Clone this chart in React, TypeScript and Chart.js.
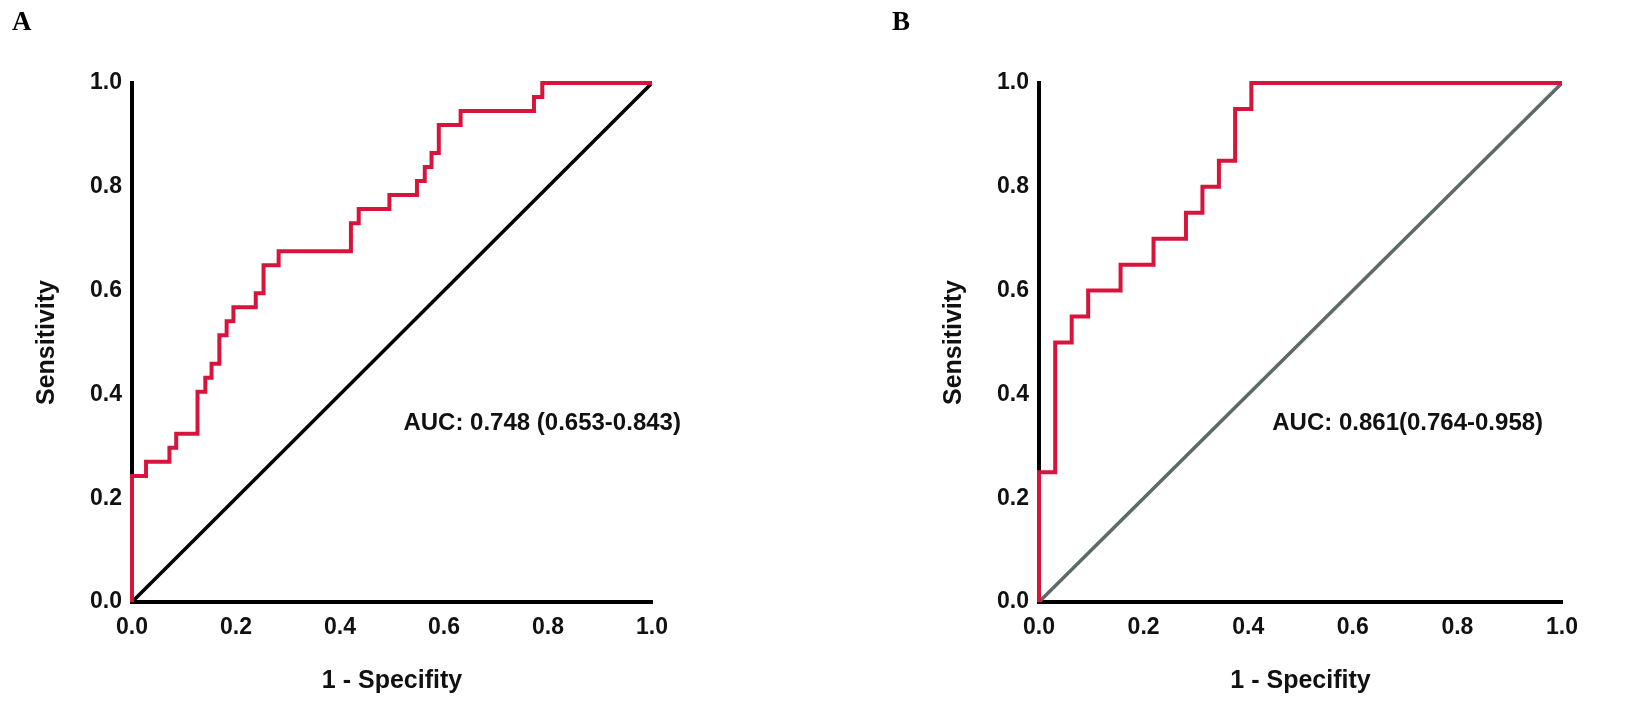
import React, { useEffect, useRef } from 'react';
import Chart from 'chart.js/auto';

// ROC points (1 - specificity, sensitivity), corners at the top of each rise
const fprA = [0, 0, 0.027, 0.072, 0.085, 0.126, 0.141, 0.153, 0.168, 0.182, 0.195, 0.238, 0.253, 0.282, 0.421, 0.436, 0.495, 0.548, 0.563, 0.576, 0.59, 0.632, 0.773, 0.789, 1.0];
const tprA = [0, 0.243, 0.27, 0.297, 0.324, 0.405, 0.432, 0.459, 0.514, 0.541, 0.568, 0.595, 0.649, 0.676, 0.73, 0.757, 0.784, 0.811, 0.838, 0.865, 0.919, 0.946, 0.973, 1.0, 1.0];

const fprB = [0, 0, 0.031, 0.0625, 0.094, 0.156, 0.219, 0.281, 0.3125, 0.344, 0.375, 0.406, 1.0];
const tprB = [0, 0.25, 0.5, 0.55, 0.6, 0.65, 0.7, 0.75, 0.8, 0.85, 0.95, 1.0, 1.0];

const refLine = [0, 1];
const tickValues = [0, 0.2, 0.4, 0.6, 0.8, 1.0];

const aucA = 'AUC: 0.748 (0.653-0.843)';
const aucB = 'AUC: 0.861(0.764-0.958)';

const FONT = "'Liberation Sans', Arial, sans-serif";

type RocProps = {
  fpr: number[];
  tpr: number[];
  auc: string;
  aucX: number;
  diagColor: string;
  padLeft: number;
  padRight: number;
};

const Roc = ({ fpr, tpr, auc, aucX, diagColor, padLeft, padRight }: RocProps) => {
  const canvasRef = useRef<HTMLCanvasElement>(null);

  useEffect(() => {
    const canvas = canvasRef.current;
    let chart: Chart | null = null;

    const aucLabel = {
      id: 'aucLabel',
      afterDatasetsDraw(c: any) {
        const { ctx, scales } = c;
        ctx.save();
        ctx.font = `bold 24px ${FONT}`;
        ctx.fillStyle = '#111';
        ctx.textAlign = 'left';
        ctx.textBaseline = 'middle';
        ctx.fillText(auc, scales.x.getPixelForValue(aucX), scales.y.getPixelForValue(0.345));
        ctx.restore();
      },
    };

    if (canvas) {
      chart = new Chart(canvas, {
        type: 'scatter',
        data: {
          datasets: [
            {
              // horizontal first, then the rise to the next point
              data: fpr.map((x, i) => ({ x, y: tpr[i] })),
              showLine: true,
              stepped: 'before',
              borderColor: '#d7143c',
              borderWidth: 4,
              pointRadius: 0,
              clip: false,
              order: 0,
            },
            {
              data: refLine.map((v) => ({ x: v, y: v })),
              showLine: true,
              borderColor: diagColor,
              borderWidth: 3.5,
              pointRadius: 0,
              order: 1,
            },
          ],
        },
        options: {
          responsive: false,
          animation: false,
          layout: { padding: { left: padLeft, right: padRight, top: 83, bottom: 0 } },
          plugins: {
            legend: { display: false },
            tooltip: { enabled: false },
          },
          scales: {
            x: {
              type: 'linear',
              min: 0,
              max: 1,
              afterBuildTicks: (s: any) => {
                s.ticks = tickValues.map((value) => ({ value }));
              },
              afterFit: (s: any) => {
                s.height = 100;
              },
              grid: { display: false, drawTicks: false },
              border: { color: '#000', width: 4 },
              ticks: {
                padding: 12,
                color: '#111',
                font: { family: FONT, size: 23, weight: 'bold' },
                callback: (v: any) => Number(v).toFixed(1),
              },
              title: {
                display: true,
                text: '1 - Specifity',
                color: '#111',
                padding: { top: 0, bottom: 6 },
                font: { family: FONT, size: 25, weight: 'bold' },
              },
            },
            y: {
              type: 'linear',
              min: 0,
              max: 1,
              afterBuildTicks: (s: any) => {
                s.ticks = tickValues.map((value) => ({ value }));
              },
              afterFit: (s: any) => {
                s.width = 132;
              },
              grid: { display: false, drawTicks: false },
              border: { color: '#000', width: 4 },
              ticks: {
                padding: 10,
                color: '#111',
                font: { family: FONT, size: 23, weight: 'bold' },
                callback: (v: any) => Number(v).toFixed(1),
              },
              title: {
                display: true,
                text: 'Sensitivity',
                color: '#111',
                padding: { top: 32, bottom: 0 },
                font: { family: FONT, size: 25, weight: 'bold' },
              },
            },
          },
        },
        plugins: [aucLabel],
      });
    }

    return () => {
      if (chart) {
        chart.destroy();
      }
    };
  }, [fpr, tpr, auc, aucX, diagColor, padLeft, padRight]);

  return <canvas ref={canvasRef} width={819} height={702} style={{ display: 'block' }}></canvas>;
};

const panelLetter: React.CSSProperties = {
  position: 'absolute',
  top: 6,
  fontFamily: "'Liberation Serif', 'DejaVu Serif', serif",
  fontWeight: 'bold',
  fontSize: 27,
  lineHeight: '30px',
  color: '#000',
};

const App = () => {
  return (
    <div style={{ position: 'absolute', left: 0, top: 0, width: 1638, height: 702, background: '#fff', display: 'flex' }}>
      <Roc fpr={fprA} tpr={tprA} auc={aucA} aucX={0.522} diagColor="#000" padLeft={0} padRight={167} />
      <Roc fpr={fprB} tpr={tprB} auc={aucB} aucX={0.446} diagColor="#5d6b68" padLeft={88} padRight={76} />
      <div style={{ ...panelLetter, left: 12 }}>A</div>
      <div style={{ ...panelLetter, left: 892 }}>B</div>
    </div>
  );
};

export default App;
